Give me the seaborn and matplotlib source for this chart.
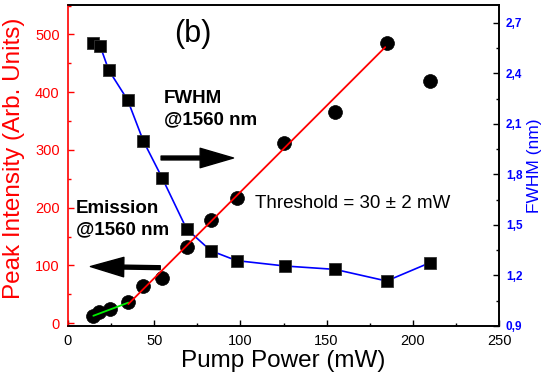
import numpy as np
import pandas as pd
import matplotlib
matplotlib.use("Agg")
import matplotlib.pyplot as plt
import seaborn as sns
from matplotlib.ticker import MultipleLocator, FuncFormatter

# ---- data ----
pump_em = [14.7, 18.0, 24.4, 35.0, 43.7, 54.7, 69.2, 82.8, 97.8, 125.5, 154.9, 184.8, 210.0]
intensity = [12.7, 20, 25, 36.4, 65, 78, 131, 178, 217, 312, 365, 485, 420]

pump_fw = [14.7, 18.6, 23.6, 34.6, 43.7, 54.7, 68.8, 82.8, 97.8, 125.9, 154.9, 184.8, 210.0]
fwhm = [2.58, 2.563, 2.419, 2.241, 1.998, 1.777, 1.476, 1.347, 1.288, 1.256, 1.236, 1.167, 1.276]

fit_low_x = [14.7, 35.0]
fit_low_y = [12.7, 35.5]
fit_high_x = [35.0, 184.0]
fit_high_y = [33.0, 478.0]

sns.set_style("ticks")
plt.rcParams['font.family'] = ['Liberation Sans', 'DejaVu Sans']
plt.rcParams.update({
    'text.color': 'black', 'axes.labelcolor': 'black',
    'xtick.color': 'black', 'ytick.color': 'black',
    'xtick.direction': 'in', 'ytick.direction': 'in',
    'xtick.major.size': 4, 'ytick.major.size': 4,
    'xtick.minor.size': 2.5, 'ytick.minor.size': 2.5,
    'xtick.major.width': 1, 'ytick.major.width': 1,
    'xtick.minor.width': 1, 'ytick.minor.width': 1,
    'xtick.minor.visible': True, 'ytick.minor.visible': True,
})

fig = plt.figure(figsize=(5.5, 3.78), dpi=100)
ax = fig.add_axes([68/550, 1-326/378, (499-68)/550, (326-5)/378])
ax2 = ax.twinx()
ax.set_zorder(ax2.get_zorder() + 1)
ax.patch.set_visible(False)

# FWHM (right axis)
df_fw = pd.DataFrame({"pump": pump_fw, "fwhm": fwhm})
sns.lineplot(data=df_fw, x="pump", y="fwhm", ax=ax2, color="#0000ff", lw=1.2,
             marker="s", markersize=8, markerfacecolor="black",
             markeredgecolor="#333333", markeredgewidth=0.6, zorder=3)

# emission (left axis)
df_em = pd.DataFrame({"pump": pump_em, "intensity": intensity})
sns.scatterplot(data=df_em, x="pump", y="intensity", ax=ax, color="black",
                s=100, edgecolor="black", linewidth=0.5, zorder=3)
sns.lineplot(x=fit_low_x, y=fit_low_y, ax=ax, color="#00ee00", lw=1.3, zorder=4)
sns.lineplot(x=fit_high_x, y=fit_high_y, ax=ax, color="#ff0000", lw=1.3, zorder=4)

ax.set_xlim(0, 250)
ax.set_ylim(-5, 551)
ax2.set_ylim(0.9, 2.805)

ax.xaxis.set_major_locator(MultipleLocator(50))
ax.xaxis.set_minor_locator(MultipleLocator(25))
ax.yaxis.set_major_locator(MultipleLocator(100))
ax.yaxis.set_minor_locator(MultipleLocator(50))
ax2.yaxis.set_major_locator(MultipleLocator(0.3))
ax2.yaxis.set_minor_locator(MultipleLocator(0.15))
ax2.yaxis.set_major_formatter(FuncFormatter(lambda v, p: f"{v:.1f}".replace(".", ",")))

ax.tick_params(axis='x', which='both', direction='in', color='black', labelcolor='black',
               labelsize=10.5, pad=6, top=False)
ax.tick_params(axis='y', which='both', direction='in', color='red', labelcolor='red',
               labelsize=10.5, pad=6, right=False)
ax2.tick_params(axis='y', which='both', direction='in', color='black', labelcolor='#0000ff',
                labelsize=8.5, pad=5, left=False)
for lab in ax2.get_yticklabels():
    lab.set_fontweight('bold')

for a in (ax, ax2):
    for s in a.spines.values():
        s.set_linewidth(1.2)
        s.set_color('black')
ax.spines['left'].set_color('red')
ax2.spines['left'].set_visible(False)

ax.set_xlabel("Pump Power (mW)", fontsize=17.5, color='black', labelpad=1)
ax.set_ylabel("Peak Intensity (Arb. Units)", fontsize=17.5, color='red')
ax.yaxis.set_label_coords(-0.100, 0.523)
ax2.set_ylabel("FWHM (nm)", fontsize=12.5, color='#0000ff', labelpad=3)

# annotations
ax.text(72.5, 500, "(b)", fontsize=22, ha='center', va='center', color='black')
ax.text(55.7, 404, "FWHM\n@1560 nm", fontsize=13.5, fontweight='bold', ha='left', va='top',
        linespacing=1.35, color='black')
ax.text(4.6, 214, "Emission\n@1560 nm", fontsize=13.5, fontweight='bold', ha='left', va='top',
        linespacing=1.35, color='black')
ax.text(108.5, 208, "Threshold = 30 \u00b1 2 mW", fontsize=13.5, ha='left', va='center',
        color='black')

arrow_kw = dict(facecolor='black', edgecolor='black', width=2.8, headwidth=14,
                headlength=24, shrink=0)
ax.annotate("", xy=(96, 286), xytext=(54, 286), arrowprops=arrow_kw)
ax.annotate("", xy=(13, 98), xytext=(53.5, 96), arrowprops=arrow_kw)

fig.savefig("out.png", dpi=100)
